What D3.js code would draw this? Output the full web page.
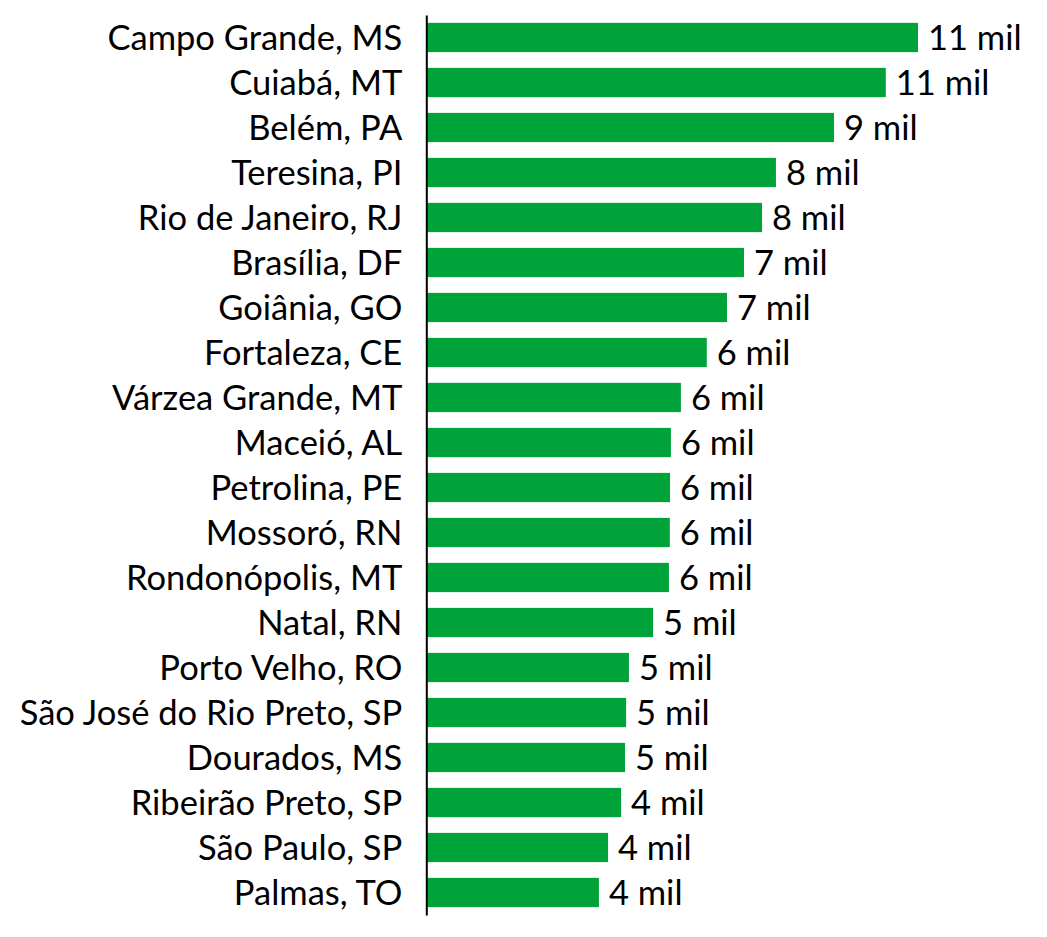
<!DOCTYPE html>
<html lang="pt-BR">

<head>
  <meta charset="utf-8">
  <title>Cidades</title>
  <script src="https://d3js.org/d3.v7.min.js" charset="utf-8"></script>
  <style type="text/css">
    body {
      margin: 0;
      background: #fff;
    }

    text {
      font-family: Lato, "Open Sans", sans-serif;
      fill: #000;
    }

    rect.bar {
      fill: #00a33a;
    }
  </style>
</head>

<body>

  <svg id="chart" class="chart"></svg>

  <script type="text/javascript">
    const cities = [
      "Campo Grande, MS", "Cuiabá, MT", "Belém, PA", "Teresina, PI",
      "Rio de Janeiro, RJ", "Brasília, DF", "Goiânia, GO", "Fortaleza, CE",
      "Várzea Grande, MT", "Maceió, AL", "Petrolina, PE", "Mossoró, RN",
      "Rondonópolis, MT", "Natal, RN", "Porto Velho, RO",
      "São José do Rio Preto, SP", "Dourados, MS", "Ribeirão Preto, SP",
      "São Paulo, SP", "Palmas, TO"
    ];
    const values = [
      11280, 10540, 9350, 8015, 7695, 7280, 6890, 6425, 5830, 5600,
      5580, 5575, 5555, 5190, 4635, 4570, 4545, 4455, 4155, 3945
    ];
    const unit = "mil";

    const maxWidth = 1047;
    const maxHeight = 937;
    const barLeft = 427.3;   // where the bars start
    const plotTop = 15;
    const plotBottom = 915;

    const data = cities.map((c, i) => ({ city: c, value: values[i] }));

    const svg = d3.select("#chart")
      .attr("width", maxWidth)
      .attr("height", maxHeight);

    const xScale = d3.scaleLinear()
      .domain([0, 12000])
      .range([barLeft, barLeft + 522]);

    const yScale = d3.scaleBand()
      .domain(cities)
      .range([plotTop, plotBottom])
      .paddingInner(0.35)
      .paddingOuter(0.175);

    svg.selectAll()
      .data(data)
      .enter()
      .append("rect")
      .attr("class", "bar")
      .attr("x", xScale(0))
      .attr("y", (d) => yScale(d.city))
      .attr("width", (d) => xScale(d.value) - xScale(0))
      .attr("height", yScale.bandwidth());

    // value labels
    svg.selectAll()
      .data(data)
      .enter()
      .append("text")
      .attr("x", (d) => xScale(d.value) + 10)
      .attr("y", (d) => yScale(d.city) + yScale.bandwidth() / 2)
      .attr("dy", "0.35em")
      .style("font-size", "34.5px")
      .text((d) => Math.round(d.value / 1000) + " " + unit);

    const axis = svg.append("g")
      .attr("transform", `translate(${barLeft - 1}, 0)`)
      .call(d3.axisLeft(yScale).tickSize(0).tickPadding(24));

    axis.select(".domain")
      .attr("stroke", "#000")
      .attr("stroke-width", 2);

    axis.selectAll(".tick text")
      .style("font-size", "34.5px")
      .style("font-family", "Lato, 'Open Sans', sans-serif")
      .attr("fill", "#000")
      .attr("dy", "0.35em");
  </script>
</body>

</html>
